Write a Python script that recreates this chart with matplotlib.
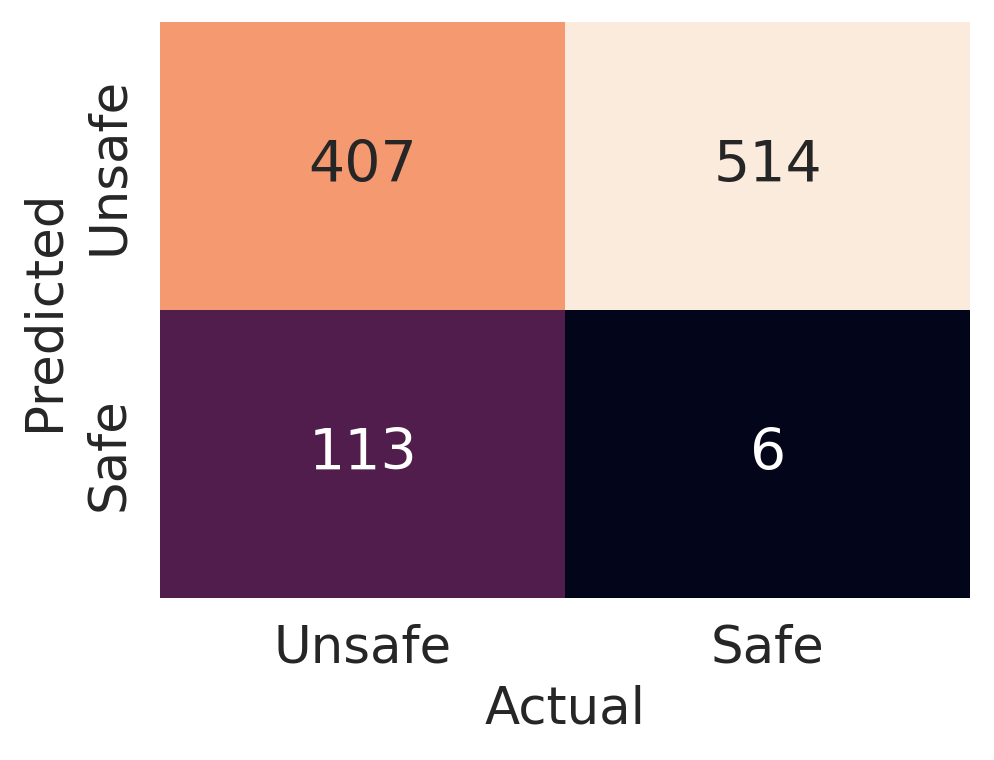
import matplotlib
matplotlib.use("Agg")
import matplotlib.pyplot as plt
import seaborn as sns
import numpy as np

labels = ["Unsafe", "Safe"]
# rows = predicted, cols = actual
counts = [[407, 514],
          [113, 6]]

sns.set_theme(style="white")
plt.rcParams['font.family'] = ['DejaVu Sans']

fig = plt.figure(figsize=(9.95, 7.6), dpi=100)
ax = fig.add_axes([0.161, 0.213, 0.814, 0.758])
sns.heatmap(np.array(counts), annot=True, fmt="d", cmap="rocket", cbar=False,
            xticklabels=labels, yticklabels=labels, ax=ax,
            annot_kws={"fontsize": 41})
ax.set_xlabel("Actual", fontsize=37, labelpad=8)
ax.set_ylabel("Predicted", fontsize=37, labelpad=10)
ax.tick_params(axis="both", labelsize=37, length=0)
ax.tick_params(axis="x", pad=18)
ax.tick_params(axis="y", pad=19)
plt.setp(ax.get_yticklabels(), rotation=90, va="center")
fig.savefig("out.png", dpi=100)
